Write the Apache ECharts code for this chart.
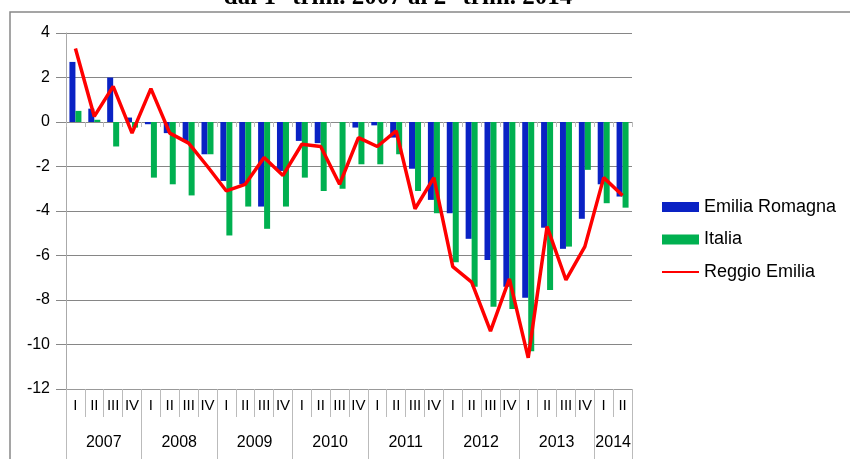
<!DOCTYPE html>
<html>
<head>
<meta charset="utf-8">
<script src="https://cdn.jsdelivr.net/npm/echarts@6/dist/echarts.min.js"></script>
<style>
  html, body { margin: 0; padding: 0; background: #fff; }
  #chart { width: 850px; height: 459px; }
</style>
</head>
<body>
<div id="chart"></div>
<script>
// trimestri dal 2007 al 2° trim. 2014
const quarters = [
  'I', 'II', 'III', 'IV', 'I', 'II', 'III', 'IV', 'I', 'II', 'III', 'IV',
  'I', 'II', 'III', 'IV', 'I', 'II', 'III', 'IV', 'I', 'II', 'III', 'IV',
  'I', 'II', 'III', 'IV', 'I', 'II'
]
const years = ['2007', '2008', '2009', '2010', '2011', '2012', '2013', '2014']
// posizione (in trimestri) del centro di ogni anno
const yearCenters = [2, 6, 10, 14, 18, 22, 26, 29]

const emiliaRomagna = [
  2.7, 0.6, 2.0, 0.2, -0.1, -0.5, -0.9, -1.45, -2.65, -2.8, -3.8, -2.2,
  -0.85, -0.95, 0, -0.25, -0.15, -0.7, -2.1, -3.5, -4.1, -5.25, -6.2, -7.4,
  -7.9, -4.75, -5.7, -4.35, -2.8, -3.35
]
const italia = [
  0.5, 0.1, -1.1, -0.25, -2.5, -2.8, -3.3, -1.45, -5.1, -3.8, -4.8, -3.8,
  -2.5, -3.1, -3.0, -1.9, -1.9, -1.45, -3.1, -4.1, -6.3, -7.4, -8.3, -8.4,
  -10.3, -7.55, -5.6, -2.15, -3.65, -3.85
]
const reggioEmilia = [
  3.3, 0.25, 1.6, -0.5, 1.5, -0.5, -0.95, -2.0, -3.1, -2.8, -1.6, -2.4,
  -1.0, -1.1, -2.8, -0.7, -1.1, -0.4, -3.9, -2.5, -6.5, -7.2, -9.4, -7.05,
  -10.6, -4.7, -7.1, -5.6, -2.5, -3.3
]

const myChart = echarts.init(document.getElementById('chart'))
const font = 'Liberation Sans, Arial, sans-serif'

myChart.setOption({
  animation: false,
  textStyle: { fontFamily: font },
  title: {
    text: 'dal 1° trim. 2007 al 2° trim. 2014',
    left: 393,
    textAlign: 'center',
    top: -20,
    textStyle: {
      fontFamily: 'Liberation Serif, Times New Roman, serif',
      fontWeight: 'bold',
      fontSize: 25,
      color: '#000'
    }
  },
  graphic: [
    {
      type: 'rect',
      shape: { x: 10, y: 12, width: 900, height: 500 },
      style: { fill: 'none', stroke: '#888', lineWidth: 1.5 },
      silent: true
    }
  ],
  legend: {
    orient: 'vertical',
    left: 662,
    top: 198,
    padding: 0,
    itemWidth: 37,
    itemHeight: 10,
    itemGap: 14.5,
    textStyle: { fontSize: 18, color: '#000', fontFamily: font },
    data: [
      { name: 'Emilia Romagna', icon: 'rect' },
      { name: 'Italia', icon: 'rect' },
      { name: 'Reggio Emilia', icon: 'path://M0,0 L100,0 L100,6 L0,6 Z' }
    ]
  },
  grid: {
    left: 66,
    right: 218,
    top: 33,
    bottom: 70
  },
  xAxis: [
    {
      type: 'category',
      data: quarters,
      position: 'bottom',
      axisLine: { onZero: false, lineStyle: { color: '#999' } },
      axisTick: { show: true, interval: 0, length: 28, lineStyle: { color: '#bbb' } },
      axisLabel: { interval: 0, margin: 9, fontSize: 15, color: '#000', fontFamily: font },
      splitLine: { show: false }
    },
    {
      // tacche sulla linea dello zero
      type: 'category',
      data: quarters,
      position: 'bottom',
      axisLine: { onZero: true, lineStyle: { color: '#888' } },
      axisTick: { show: true, interval: 0, length: 5, lineStyle: { color: '#bbb' } },
      axisLabel: { show: false },
      splitLine: { show: false }
    },
    {
      // separatori degli anni
      type: 'category',
      data: quarters,
      position: 'bottom',
      axisLine: { onZero: false, show: false },
      axisTick: {
        show: true,
        length: 70,
        interval: (i) => i % 4 === 0,
        lineStyle: { color: '#bbb' }
      },
      axisLabel: { show: false },
      splitLine: { show: false }
    },
    {
      // etichette degli anni
      type: 'value',
      min: 0,
      max: 30,
      interval: 1,
      position: 'bottom',
      axisLine: { onZero: false, show: false },
      axisTick: { show: false },
      splitLine: { show: false },
      axisLabel: {
        margin: 46,
        fontSize: 16,
        color: '#000',
        fontFamily: font,
        formatter: (v) => {
          const k = yearCenters.indexOf(v)
          return k >= 0 ? years[k] : ''
        }
      }
    }
  ],
  yAxis: {
    type: 'value',
    min: -12,
    max: 4,
    interval: 2,
    axisLine: { show: true, lineStyle: { color: '#aaa' } },
    axisTick: { show: true, length: 10, lineStyle: { color: '#888' } },
    axisLabel: { margin: 16, fontSize: 16, color: '#000', fontFamily: font },
    splitLine: { lineStyle: { color: '#868686', width: 1 } }
  },
  series: [
    {
      name: 'Emilia Romagna',
      type: 'bar',
      xAxisIndex: 0,
      barWidth: 6,
      barGap: '0%',
      itemStyle: { color: '#0A22C4' },
      data: emiliaRomagna
    },
    {
      name: 'Italia',
      type: 'bar',
      xAxisIndex: 0,
      barWidth: 6,
      barGap: '0%',
      itemStyle: { color: '#00B050' },
      data: italia
    },
    {
      name: 'Reggio Emilia',
      type: 'line',
      xAxisIndex: 0,
      symbol: 'none',
      lineStyle: { color: '#FF0000', width: 3.5 },
      itemStyle: { color: '#FF0000' },
      data: reggioEmilia
    }
  ]
})

window.addEventListener('resize', myChart.resize)
</script>
</body>
</html>
